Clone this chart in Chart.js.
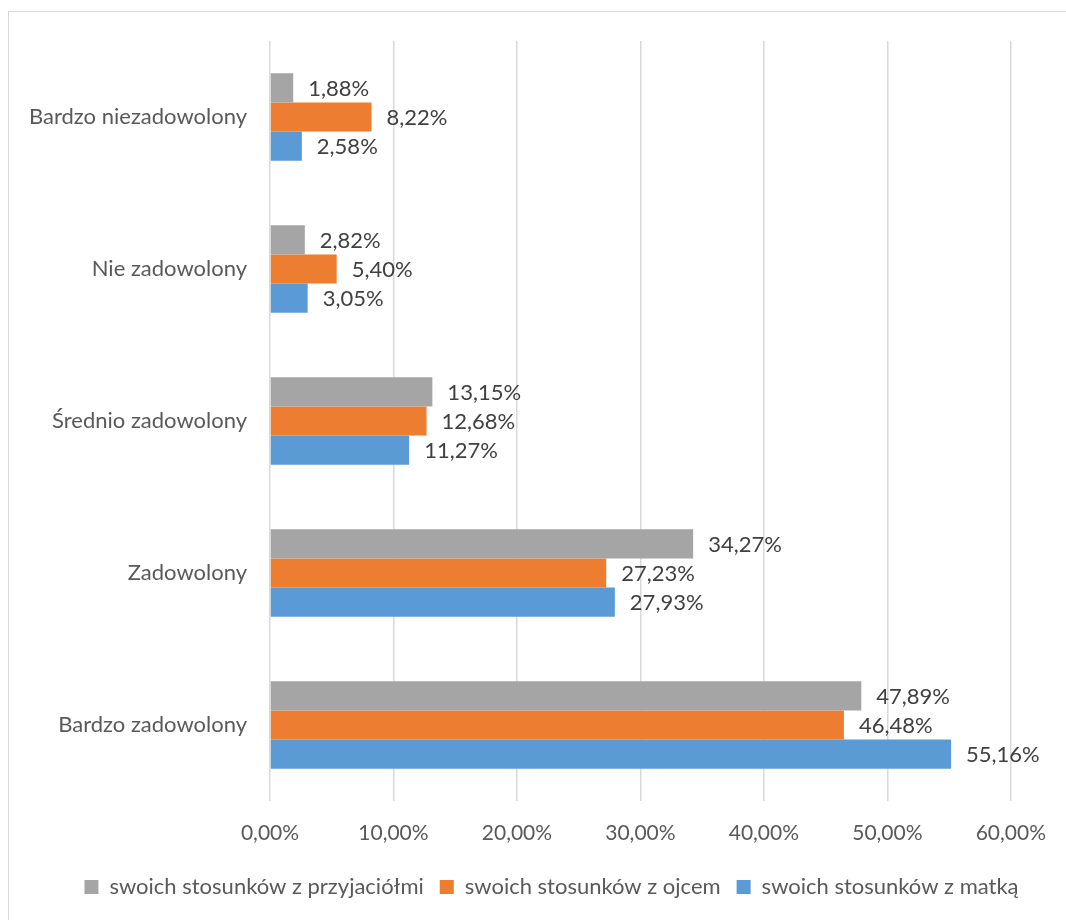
<!DOCTYPE html>
<html lang="pl">
<head>
<meta charset="utf-8">
<title>Zadowolenie ze stosunków</title>
<script src="https://cdn.jsdelivr.net/npm/chart.js@4/dist/chart.umd.min.js"></script>
<style>
    html, body { margin: 0; padding: 0; background: #ffffff; overflow: hidden; }
    #wrap { position: relative; width: 1066px; height: 920px; }
    #frame {
        position: absolute; left: 8px; top: 11px;
        width: 1100px; height: 1000px;
        border: 1px solid #d9d9d9; box-sizing: border-box;
        pointer-events: none;
    }
    canvas { position: absolute; left: 0; top: 0; }
</style>
</head>
<body>
<div id="wrap">
    <canvas id="chart" width="1066" height="920"></canvas>
    <div id="frame"></div>
</div>
<script>
// categories, listed top to bottom
const categories = [
    'Bardzo niezadowolony',
    'Nie zadowolony',
    'Średnio zadowolony',
    'Zadowolony',
    'Bardzo zadowolony'
];

// percentages per series, same order as categories
const friendsValues = [1.88, 2.82, 13.15, 34.27, 47.89];
const fatherValues = [8.22, 5.40, 12.68, 27.23, 46.48];
const motherValues = [2.58, 3.05, 11.27, 27.93, 55.16];

const seriesNames = [
    'swoich stosunków z przyjaciółmi',
    'swoich stosunków z ojcem',
    'swoich stosunków z matką'
];

const xTicks = [0, 10, 20, 30, 40, 50, 60];

const FONT = 'Lato, "Open Sans", sans-serif';
const LEGEND_SHIFT = 46;   // legend sits centred on the canvas, not the padded area

function formatPercent(v) {
    return v.toFixed(2).replace('.', ',') + '%';
}

// writes the value just right of every bar
const barValueLabels = {
    id: 'barValueLabels',
    afterDatasetsDraw(chart) {
        const ctx = chart.ctx;
        ctx.save();
        ctx.font = '22px ' + FONT;
        ctx.fillStyle = '#404040';
        ctx.textAlign = 'left';
        ctx.textBaseline = 'middle';
        chart.data.datasets.forEach((ds, i) => {
            const meta = chart.getDatasetMeta(i);
            meta.data.forEach((bar, j) => {
                ctx.fillText(formatPercent(ds.data[j]), bar.x + 15, bar.y + 1);
            });
        });
        ctx.restore();
    }
};

// nudges the legend box sideways once layout is done
const legendShift = {
    id: 'legendShift',
    afterLayout(chart) {
        const lg = chart.legend;
        if (!lg) return;
        lg.left += LEGEND_SHIFT;
        lg.right += LEGEND_SHIFT;
    }
};

const ctx = document.getElementById('chart').getContext('2d');

new Chart(ctx, {
    type: 'bar',
    data: {
        labels: categories,
        datasets: [
            { label: seriesNames[0], data: friendsValues, backgroundColor: '#a5a5a5' },
            { label: seriesNames[1], data: fatherValues, backgroundColor: '#ed7d31' },
            { label: seriesNames[2], data: motherValues, backgroundColor: '#5b9bd5' }
        ]
    },
    options: {
        indexAxis: 'y',
        responsive: false,
        animation: false,
        categoryPercentage: 0.577,
        barPercentage: 1.0,
        layout: {
            padding: { left: 0, right: 55, top: 41, bottom: 12 }
        },
        scales: {
            x: {
                min: 0,
                max: 60,
                afterBuildTicks(scale) {
                    scale.ticks = xTicks.map(v => ({ value: v }));
                },
                afterFit(scale) { scale.height = 59; },
                grid: { color: '#d9d9d9', lineWidth: 1.5, drawTicks: false },
                border: { display: false },
                ticks: {
                    color: '#595959',
                    font: { family: FONT, size: 21 },
                    padding: 20,
                    callback: v => formatPercent(v)
                }
            },
            y: {
                afterFit(scale) { scale.width = 270; },
                grid: { display: false, drawTicks: false },
                border: { display: false },
                ticks: {
                    color: '#595959',
                    font: { family: FONT, size: 22 },
                    padding: 23
                }
            }
        },
        plugins: {
            legend: {
                position: 'bottom',
                labels: {
                    boxWidth: 14,
                    boxHeight: 14,
                    padding: 16,
                    color: '#595959',
                    font: { family: FONT, size: 22 }
                }
            },
            tooltip: { enabled: false }
        }
    },
    plugins: [barValueLabels, legendShift]
});
</script>
</body>
</html>
